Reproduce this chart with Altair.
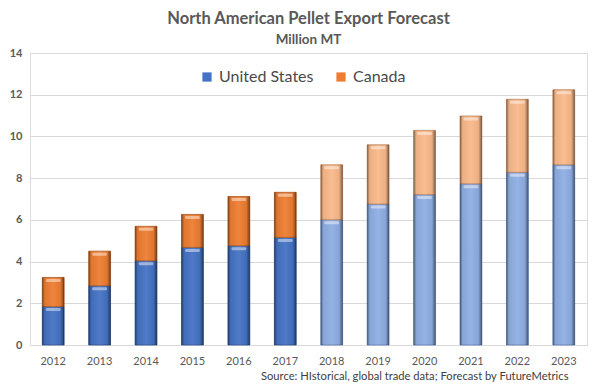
import altair as alt
import pandas as pd

years = ["2012", "2013", "2014", "2015", "2016", "2017",
         "2018", "2019", "2020", "2021", "2022", "2023"]
us = [1.84, 2.84, 4.04, 4.68, 4.76, 5.16, 6.01, 6.76, 7.21, 7.73, 8.28, 8.64]
canada = [1.40, 1.66, 1.65, 1.58, 2.36, 2.16, 2.63, 2.84, 3.08, 3.25, 3.50, 3.60]
forecast_from = 2018

keys = ["United States", "Canada", "US forecast", "Canada forecast"]
fills = ["#4472C4", "#ED7D31", "#8FAEE3", "#F9B98A"]
strokes = ["#2F528F", "#AE5A21", "#5B7BB5", "#C0875E"]

rows = []
for y, u, c in zip(years, us, canada):
    fc = int(y) >= forecast_from
    rows.append(dict(year=y, key="US forecast" if fc else "United States", start=0.0, end=u))
    rows.append(dict(year=y, key="Canada forecast" if fc else "Canada", start=u, end=u + c))
df = pd.DataFrame(rows)

FONT = "Lato"
TXT = "#595959"

x_enc = alt.X(
    "year:O",
    scale=alt.Scale(paddingInner=0.53, paddingOuter=0.265),
    axis=alt.Axis(
        labelAngle=0, labelFontSize=11, labelColor=TXT, labelFont=FONT,
        labelPadding=10, domain=False, ticks=False,
        title="Source: HIstorical, global trade data; Forecast by FutureMetrics",
        titleFont=FONT, titleFontSize=11.2, titleFontWeight="normal", titleColor="#404040",
        titleX=538, titleAlign="right", titlePadding=4,
    ),
)
y_enc = alt.Y(
    "start:Q",
    scale=alt.Scale(domain=[0, 14], nice=False),
    axis=alt.Axis(
        values=[0, 2, 4, 6, 8, 10, 12, 14], labelFontSize=11, labelFontWeight="bold",
        labelColor=TXT, labelFont=FONT, labelPadding=8, domain=False, ticks=False,
        gridColor="#D9D9D9", title=None,
    ),
)

base = alt.Chart(df)

bars = base.mark_bar(strokeWidth=0.8).encode(
    x=x_enc,
    y=y_enc,
    y2="end:Q",
    color=alt.Color(
        "key:N",
        scale=alt.Scale(domain=keys, range=fills),
        legend=alt.Legend(
            orient="none", legendX=169, legendY=16, direction="horizontal",
            title=None, values=["United States", "Canada"], symbolType="square",
            symbolSize=85, symbolStrokeWidth=0, labelFontSize=16, labelFont=FONT,
            labelColor="#4A4A4A", columnPadding=19, labelOffset=4, padding=0,
        ),
    ),
    stroke=alt.Stroke("key:N", scale=alt.Scale(domain=keys, range=strokes), legend=None),
)

bevel = base.mark_bar(
    color=alt.Gradient(
        gradient="linear", x1=0, x2=1, y1=0, y2=0,
        stops=[
            alt.GradientStop(color="rgba(0,0,0,0.45)", offset=0),
            alt.GradientStop(color="rgba(0,0,0,0.05)", offset=0.12),
            alt.GradientStop(color="rgba(255,255,255,0.06)", offset=0.5),
            alt.GradientStop(color="rgba(0,0,0,0.05)", offset=0.84),
            alt.GradientStop(color="rgba(0,0,0,0.5)", offset=1),
        ],
    )
).encode(x="year:O", y="start:Q", y2="end:Q")

highlight = base.mark_tick(
    color="white", opacity=0.45, thickness=3, size=15, yOffset=3, cornerRadius=1.5
).encode(x="year:O", y="end:Q")

chart = (
    alt.layer(bars, bevel, highlight)
    .properties(
        width=557, height=292,
        autosize=alt.AutoSizeParams(type="none"),
        padding={"left": 22, "top": 45, "right": 3, "bottom": 40},
        title=alt.TitleParams(
            text="North American Pellet Export Forecast", subtitle="Million MT",
            font=FONT, fontSize=16.5, fontWeight="bold", color=TXT,
            subtitleFont=FONT, subtitleFontSize=13.5, subtitleFontWeight="bold",
            subtitleColor=TXT, subtitlePadding=5, anchor="middle", offset=1,
        ),
    )
    .configure_view(fill="#F2F2F2", strokeWidth=0)
    .configure(background="white")
)

chart.save("out.html", embed_options={"renderer": "svg", "actions": False})
